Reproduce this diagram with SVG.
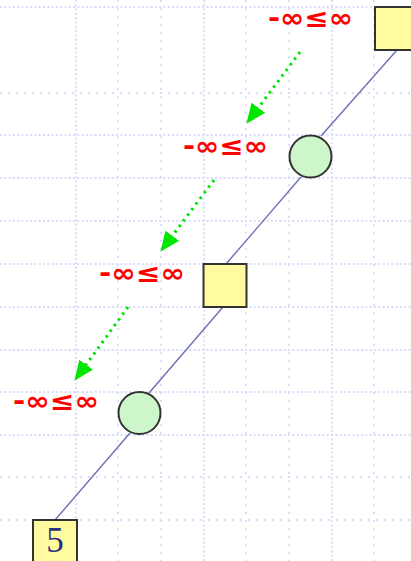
<svg xmlns="http://www.w3.org/2000/svg" width="411" height="561" viewBox="0 0 411 561">
<style>
.gd{stroke:#d6ddfa;stroke-width:1.8;stroke-dasharray:2 2.3;fill:none}
.gs{stroke:#d6ddfa;stroke-width:1.8;stroke-dasharray:2 6;fill:none}
.sq{fill:#fffb9e;stroke:#333333;stroke-width:2}
.ci{fill:#cdf7cb;stroke:#333333;stroke-width:2}
.ed{stroke:#6e6eb2;stroke-width:1.4;fill:none}
.ar{stroke:#00e600;stroke-width:3;stroke-dasharray:2.5 4.5;fill:none;marker-end:url(#ah)}
.lb{font-family:"DejaVu Sans",sans-serif;font-weight:bold;font-size:26px;fill:#ff0000;text-anchor:middle}
.num{font-family:"Liberation Serif",serif;font-size:35px;fill:#2e2e7e;text-anchor:middle}
</style>
<defs>
<marker id="ah" markerUnits="userSpaceOnUse" markerWidth="22" markerHeight="20" refX="19" refY="10" orient="auto">
<path d="M0,1.5 L20,10 L0,18.5 z" fill="#00e600"/>
</marker>
</defs>
<rect width="411" height="561" fill="#ffffff"/>
<g id="grid">
<line class="gd" x1="0" y1="7" x2="411" y2="7"/>
<line class="gs" x1="0" y1="93" x2="411" y2="93"/>
<line class="gd" x1="0" y1="135" x2="411" y2="135"/>
<line class="gd" x1="0" y1="178" x2="411" y2="178"/>
<line class="gd" x1="0" y1="221" x2="411" y2="221"/>
<line class="gd" x1="0" y1="264" x2="411" y2="264"/>
<line class="gd" x1="0" y1="307" x2="411" y2="307"/>
<line class="gd" x1="0" y1="350" x2="411" y2="350"/>
<line class="gd" x1="0" y1="392" x2="411" y2="392"/>
<line class="gd" x1="0" y1="435" x2="411" y2="435"/>
<line class="gs" x1="0" y1="477" x2="411" y2="477"/>
<line class="gs" x1="0" y1="520" x2="411" y2="520"/>
<line class="gd" x1="76" y1="0" x2="76" y2="561"/>
<line class="gs" x1="118" y1="0" x2="118" y2="561"/>
<line class="gs" x1="161" y1="0" x2="161" y2="561"/>
<line class="gd" x1="204" y1="0" x2="204" y2="561"/>
<line class="gs" x1="246" y1="0" x2="246" y2="561"/>
<line class="gs" x1="289" y1="0" x2="289" y2="561"/>
<line class="gd" x1="332" y1="0" x2="332" y2="561"/>
<line class="gs" x1="374" y1="0" x2="374" y2="561"/>
</g>
<g id="connectors">
<line class="ed" x1="397" y1="50" x2="321" y2="136"/>
<line class="ed" x1="301" y1="177" x2="226" y2="264"/>
<line class="ed" x1="223" y1="307" x2="149" y2="393"/>
<line class="ed" x1="130" y1="433" x2="55" y2="520"/>
<line class="ar" x1="300" y1="52" x2="247" y2="123"/>
<line class="ar" x1="214" y1="180" x2="161" y2="251"/>
<line class="ar" x1="128" y1="307" x2="75" y2="380"/>
</g>
<g id="node-square-1"><rect class="sq" x="375" y="7" width="43" height="43"/></g>
<g id="node-circle-1"><circle class="ci" cx="310.5" cy="156.5" r="21"/></g>
<g id="node-square-2"><rect class="sq" x="203.5" y="264" width="43" height="43"/></g>
<g id="node-circle-2"><circle class="ci" cx="139.5" cy="413" r="21"/></g>
<g id="node-square-5"><rect class="sq" x="33" y="520" width="44" height="44"/><text class="num" x="55" y="552">5</text></g>
<g id="label-1"><text class="lb" x="310.5" y="26.5" textLength="85" lengthAdjust="spacingAndGlyphs">-∞≤∞</text></g>
<g id="label-2"><text class="lb" x="225.5" y="154.5" textLength="85" lengthAdjust="spacingAndGlyphs">-∞≤∞</text></g>
<g id="label-3"><text class="lb" x="142" y="282" textLength="86" lengthAdjust="spacingAndGlyphs">-∞≤∞</text></g>
<g id="label-4"><text class="lb" x="56" y="409.5" textLength="86" lengthAdjust="spacingAndGlyphs">-∞≤∞</text></g>
</svg>
